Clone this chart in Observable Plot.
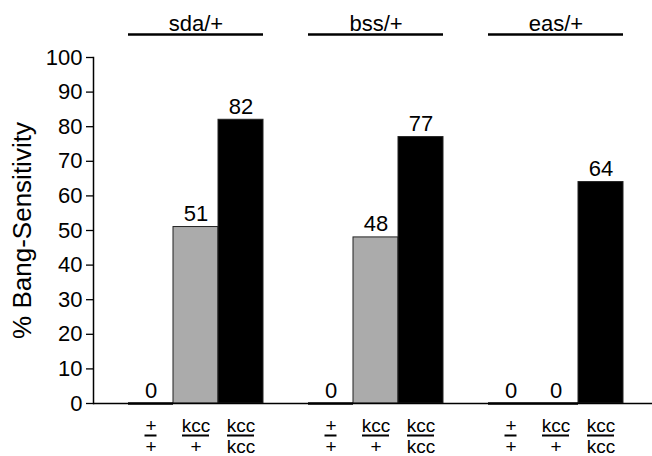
<!DOCTYPE html>
<html>
<head>
<meta charset="utf-8">
<script src="https://cdn.jsdelivr.net/npm/d3@7"></script>
<script src="https://cdn.jsdelivr.net/npm/@observablehq/plot@0.6"></script>
<style>
  html, body { margin: 0; padding: 0; background: #fff; }
  #chart { width: 652px; height: 456px; }
</style>
</head>
<body>
<div id="chart"></div>
<script>
// ---- data ----
const groups = ["sda/+", "bss/+", "eas/+"];
const numerators = ["+", "kcc", "kcc"];
const denominators = ["+", "+", "kcc"];
const genotypeFills = ["#000000", "#ababab", "#000000"];
const sdaValues = [0, 51, 82];
const bssValues = [0, 48, 77];
const easValues = [0, 0, 64];
const yTicks = [0, 10, 20, 30, 40, 50, 60, 70, 80, 90, 100];
const yLabel = "% Bang-Sensitivity";

const groupValues = [sdaValues, bssValues, easValues];
const rows = [];
const domain = [];
groups.forEach((g, gi) => {
  numerators.forEach((n, i) => {
    const key = g + " " + n + "/" + denominators[i];
    domain.push(key);
    rows.push({group: g, key, num: n, den: denominators[i], value: groupValues[gi][i], fill: genotypeFills[i], mid: i === 1});
  });
  if (gi < groups.length - 1) domain.push("gap" + gi);
});

const font = "'Liberation Sans', Arial, Helvetica, sans-serif";

const chart = Plot.plot({
  width: 652,
  height: 456,
  marginLeft: 93,
  marginRight: 0,
  marginTop: 57,
  marginBottom: 53,
  style: {fontFamily: font, fontSize: "22px", color: "#000", background: "#fff"},
  x: {domain, paddingInner: 0, paddingOuter: 0.711, align: 0.547, axis: null},
  y: {domain: [0, 100], ticks: yTicks, axis: null},
  marks: [
    Plot.axisY({ticks: yTicks, tickSize: 7, tickPadding: 4, fontSize: 22, label: null, strokeWidth: 1.3}),
    Plot.frame({anchor: "left", strokeWidth: 1.5}),
    Plot.barY(rows, {x: "key", y: "value", fill: "fill", stroke: "#222", strokeWidth: 1, inset: 0}),
    Plot.ruleY([0], {strokeWidth: 1.5}),
    // zero bars drawn as thicker line at baseline
    Plot.tickY(rows.filter(d => d.value === 0), {x: "key", y: 0, strokeWidth: 2.5}),
    // value labels
    Plot.text(rows, {x: "key", y: "value", text: d => String(d.value), lineAnchor: "bottom", dy: -6, fontSize: 22}),
    // group header labels and lines
    Plot.text(rows.filter(d => d.mid), {x: "key", y: 100, text: "group", lineAnchor: "bottom", dy: -27, fontSize: 22}),
    Plot.tickY(rows.filter(d => d.mid), {x: "key", y: 100, dy: -23, strokeWidth: 2.5, insetLeft: -45, insetRight: -45}),
    // genotype fraction labels
    Plot.text(rows, {x: "key", y: 0, text: "num", lineAnchor: "middle", dy: 22, fontSize: 19}),
    Plot.tickY(rows.filter(d => d.num === "+"), {x: "key", y: 0, dy: 32, strokeWidth: 2, insetLeft: 16.5, insetRight: 16.5}),
    Plot.tickY(rows.filter(d => d.num !== "+"), {x: "key", y: 0, dy: 32, strokeWidth: 2, insetLeft: 9, insetRight: 9}),
    Plot.text(rows, {x: "key", y: 0, text: "den", lineAnchor: "middle", dy: 43, fontSize: 19}),
    // y axis title
    Plot.text([yLabel], {frameAnchor: "left", textAnchor: "middle", rotate: -90, dx: -71, fontSize: 26})
  ]
});
document.getElementById("chart").appendChild(chart);
</script>
</body>
</html>
